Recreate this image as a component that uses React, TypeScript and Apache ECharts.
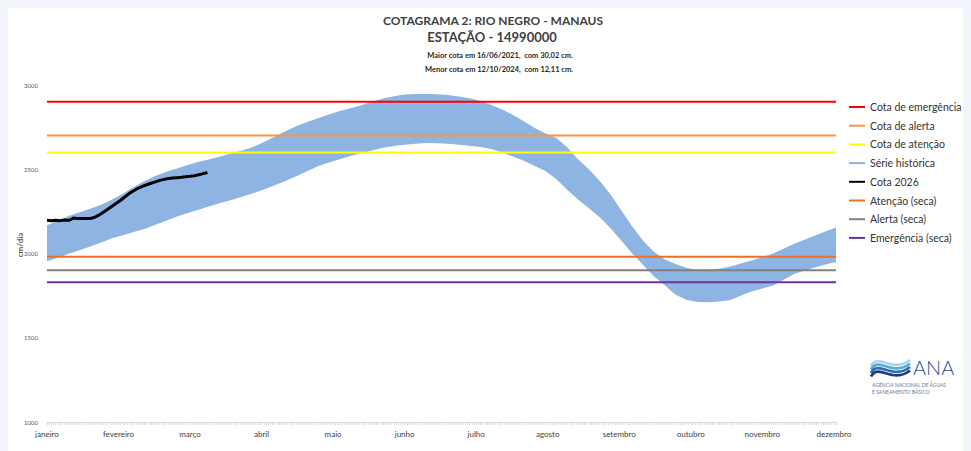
import React, { useEffect, useRef } from 'react';
import * as echarts from 'echarts';

const MONTHS = ['janeiro', 'fevereiro', 'março', 'abril', 'maio', 'junho', 'julho', 'agosto', 'setembro', 'outubro', 'novembro', 'dezembro'];

// historical band (day of year, min / max)
const BAND_DAYS = [0, 5, 10, 15, 20, 25, 30, 35, 40, 45, 50, 55, 60, 65, 70, 75, 80, 85, 90, 95, 100, 105, 110, 115, 120, 125, 130, 135, 140, 145, 150, 155, 160, 165, 170, 175, 180, 185, 190, 195, 200, 205, 210, 215, 220, 225, 230, 235, 240, 245, 250, 255, 260, 265, 270, 275, 280, 285, 290, 295, 300, 305, 310, 315, 320, 325, 330, 335, 340, 345, 350, 355, 360, 364];
const BAND_MAX = [2167, 2195, 2222, 2245, 2265, 2290, 2320, 2355, 2395, 2430, 2460, 2485, 2505, 2525, 2545, 2560, 2575, 2595, 2612, 2632, 2660, 2693, 2726, 2755, 2780, 2803, 2825, 2845, 2862, 2880, 2900, 2920, 2933, 2943, 2946, 2947, 2945, 2940, 2932, 2921, 2905, 2882, 2855, 2822, 2785, 2745, 2712, 2685, 2630, 2560, 2500, 2430, 2350, 2255, 2160, 2075, 2010, 1965, 1938, 1915, 1900, 1903, 1910, 1922, 1940, 1958, 1978, 2000, 2030, 2060, 2085, 2110, 2135, 2155];
const BAND_MIN = [1954, 1975, 1998, 2019, 2042, 2066, 2090, 2108, 2127, 2146, 2170, 2195, 2220, 2240, 2260, 2280, 2300, 2318, 2337, 2357, 2380, 2405, 2430, 2458, 2488, 2518, 2540, 2560, 2578, 2595, 2612, 2628, 2638, 2646, 2651, 2656, 2655, 2651, 2646, 2640, 2632, 2620, 2600, 2575, 2550, 2520, 2490, 2440, 2378, 2320, 2268, 2215, 2150, 2075, 2000, 1932, 1865, 1812, 1755, 1725, 1712, 1711, 1715, 1722, 1750, 1775, 1793, 1810, 1845, 1880, 1900, 1920, 1938, 1950];

// Cota 2026
const COTA_DAYS = [0, 2, 4, 6, 8, 10, 11, 12, 14, 16, 18, 20, 22, 24, 26, 28, 30, 32, 34, 36, 38, 40, 42, 44, 46, 48, 50, 52, 54, 56, 58, 60, 62, 64, 66, 68, 70, 72, 74];
const COTA_VALUES = [2197, 2195, 2198, 2195, 2199, 2197, 2201, 2210, 2208, 2207, 2207, 2208, 2215, 2228, 2245, 2262, 2280, 2298, 2316, 2337, 2357, 2372, 2387, 2398, 2408, 2417, 2425, 2434, 2440, 2445, 2448, 2450, 2452, 2455, 2458, 2462, 2467, 2474, 2481];

// reference levels
const COTA_EMERGENCIA = 2900;
const COTA_ALERTA = 2700;
const COTA_ATENCAO = 2600;
const ATENCAO_SECA = 1980;
const ALERTA_SECA = 1900;
const EMERGENCIA_SECA = 1830;

const Y_TICKS = [1000, 1500, 2000, 2500, 3000];
const LAST_DAY = 364;

const FONT = 'Lato, "Noto Sans", sans-serif';
const BAND_COLOR = '#8EB4E3';

function levelSeries(name: string, value: number, color: string) {
  return {
    name,
    type: 'line',
    data: [[0, value], [LAST_DAY, value]],
    symbol: 'none',
    z: 3,
    lineStyle: { color, width: 2 },
    itemStyle: { color },
    silent: true,
  };
}

const WAVE_COLORS = ['#A8D8EE', '#5AAAD8', '#2C6FB0', '#1C3D78'];

export default function App() {
  const ref = useRef<HTMLDivElement>(null);
  useEffect(() => {
    document.body.style.background = '#F2F6FC';
    document.documentElement.style.overflow = 'hidden';
    const chart = echarts.init(ref.current!, null, { renderer: 'svg' });
    const waves = WAVE_COLORS.map((c, i) => ({
      type: 'bezierCurve',
      shape: { x1: 863, y1: 358 + i * 3.5, cpx1: 871, cpy1: 344 + i * 3.5, cpx2: 884, cpy2: 366 + i * 3.5, x2: 902, y2: 352 + i * 3.5 },
      style: { stroke: c, lineWidth: 2.8, fill: 'none' },
    }));
    const option: any = {
      animation: false,
      backgroundColor: '#FFFFFF',
      textStyle: { fontFamily: FONT },
      grid: { left: 39, top: 77, width: 789, height: 337 },
      legend: {
        orient: 'vertical',
        left: 841,
        top: 92,
        padding: 0,
        itemWidth: 16,
        itemHeight: 2,
        itemGap: 4.7,
        icon: 'rect',
        textStyle: { fontSize: 10.5, color: '#333333', fontFamily: FONT, lineHeight: 14 },
        data: ['Cota de emergência', 'Cota de alerta', 'Cota de atenção', 'Série histórica', 'Cota 2026', 'Atenção (seca)', 'Alerta (seca)', 'Emergência (seca)'],
      },
      xAxis: {
        type: 'value',
        min: 0,
        max: LAST_DAY,
        interval: 33,
        splitLine: { show: false },
        axisLine: { show: true, lineStyle: { color: '#D9D9D9', width: 1 } },
        axisTick: { show: true, length: 3, lineStyle: { color: '#D9D9D9' } },
        minorTick: { show: true, splitNumber: 33, length: 3, lineStyle: { color: '#D9D9D9' } },
        axisLabel: {
          fontSize: 8,
          color: '#404040',
          margin: 8,
          fontFamily: FONT,
          formatter: (v: number) => (v % 33 === 0 && v / 33 < 12 ? MONTHS[v / 33] : ''),
        },
      },
      yAxis: {
        type: 'value',
        min: Y_TICKS[0],
        max: Y_TICKS[Y_TICKS.length - 1],
        interval: 500,
        splitLine: { show: false },
        axisLine: { show: false },
        axisTick: { show: false },
        axisLabel: { fontSize: 6, color: '#595959', margin: 9, fontFamily: FONT, formatter: (v: number) => String(v) },
      },
      series: [
        levelSeries('Cota de emergência', COTA_EMERGENCIA, '#FF0000'),
        levelSeries('Cota de alerta', COTA_ALERTA, '#F79646'),
        levelSeries('Cota de atenção', COTA_ATENCAO, '#FFFF00'),
        {
          name: 'Série histórica',
          type: 'custom',
          z: 1,
          silent: true,
          data: [[0, 2000]],
          itemStyle: { color: BAND_COLOR },
          renderItem: (_params: any, api: any) => {
            const pts: number[][] = [];
            for (let i = 0; i < BAND_DAYS.length; i++) pts.push(api.coord([BAND_DAYS[i], BAND_MAX[i]]));
            for (let i = BAND_DAYS.length - 1; i >= 0; i--) pts.push(api.coord([BAND_DAYS[i], BAND_MIN[i]]));
            return { type: 'polygon', shape: { points: pts }, style: { fill: BAND_COLOR } };
          },
        },
        {
          name: 'Cota 2026',
          type: 'line',
          z: 5,
          symbol: 'none',
          data: COTA_DAYS.map((d, i) => [d, COTA_VALUES[i]]),
          lineStyle: { color: '#000000', width: 3 },
          itemStyle: { color: '#000000' },
          silent: true,
        },
        levelSeries('Atenção (seca)', ATENCAO_SECA, '#F07023'),
        levelSeries('Alerta (seca)', ALERTA_SECA, '#808080'),
        levelSeries('Emergência (seca)', EMERGENCIA_SECA, '#7030A0'),
      ],
      graphic: [
        { type: 'text', x: 485, y: 12, style: { text: 'COTAGRAMA 2: RIO NEGRO - MANAUS', fontFamily: FONT, fontWeight: 'bold', fontSize: 12, fill: '#404040', textAlign: 'center', textVerticalAlign: 'middle' } },
        { type: 'text', x: 484, y: 29, style: { text: 'ESTAÇÃO - 14990000', fontFamily: FONT, fontWeight: 'bold', fontSize: 13, fill: '#404040', textAlign: 'center', textVerticalAlign: 'middle' } },
        { type: 'text', x: 492, y: 47, style: { text: 'Maior cota em 16/06/2021,  com 30,02 cm.', fontFamily: FONT, fontWeight: 'bold', fontSize: 7.5, fill: '#262626', textAlign: 'center', textVerticalAlign: 'middle' } },
        { type: 'text', x: 491, y: 61, style: { text: 'Menor cota em 12/10/2024,  com 12,11 cm.', fontFamily: FONT, fontWeight: 'bold', fontSize: 7.5, fill: '#262626', textAlign: 'center', textVerticalAlign: 'middle' } },
        { type: 'text', x: 12, y: 237, rotation: Math.PI / 2, style: { text: 'cm/dia', fontFamily: FONT, fontWeight: 'bold', fontSize: 8, fill: '#595959', textAlign: 'center', textVerticalAlign: 'middle' } },
        // ANA logo
        ...waves,
        { type: 'text', x: 905, y: 359, style: { text: 'ANA', fontFamily: FONT, fontWeight: 300, fontSize: 20, fill: '#2B4E8E', textAlign: 'left', textVerticalAlign: 'middle' } },
        { type: 'text', x: 864, y: 377, style: { text: 'AGÊNCIA NACIONAL DE ÁGUAS', fontFamily: FONT, fontSize: 5, fill: '#6A7A96', textAlign: 'left', textVerticalAlign: 'middle' } },
        { type: 'text', x: 864, y: 384, style: { text: 'E SANEAMENTO BÁSICO', fontFamily: FONT, fontSize: 5, fill: '#6A7A96', textAlign: 'left', textVerticalAlign: 'middle' } },
      ],
    };
    chart.setOption(option);
    return () => chart.dispose();
  }, []);
  return <div ref={ref} style={{ width: 963, height: 443, background: '#FFFFFF' }} />;
}
